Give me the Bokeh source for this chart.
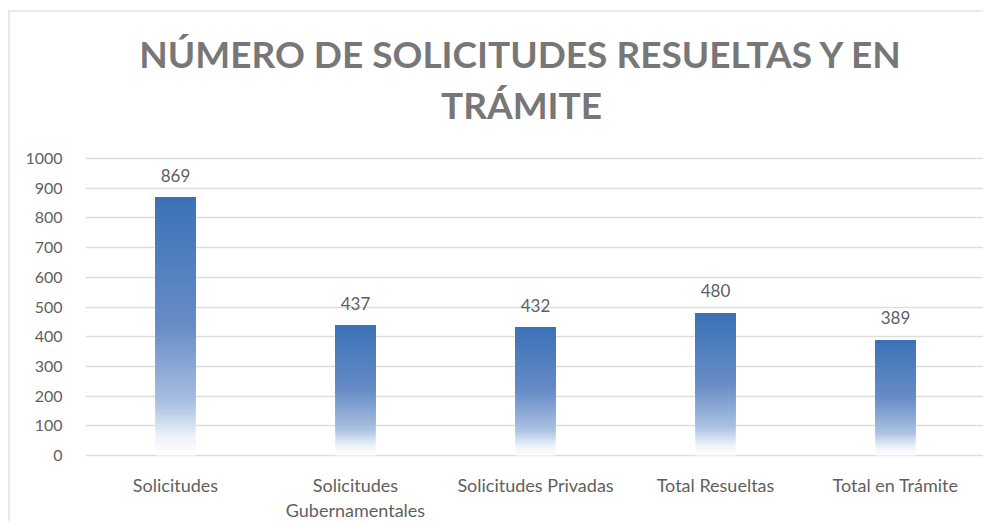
from bokeh.plotting import figure
from bokeh.models import FactorRange, Range1d, ColumnDataSource, FixedTicker
from bokeh.core.properties import value
from bokeh.embed import file_html
from bokeh.resources import INLINE

# ---- data ----
categories = ["Solicitudes", "Solicitudes Gubernamentales", "Solicitudes Privadas",
              "Total Resueltas", "Total en Trámite"]
counts = [869, 437, 432, 480, 389]
y_ticks = [0, 100, 200, 300, 400, 500, 600, 700, 800, 900, 1000]
tick_line1 = ["Solicitudes", "Solicitudes", "Solicitudes Privadas", "Total Resueltas", "Total en Trámite"]
tick_line2 = ["", "Gubernamentales", "", "", ""]
title_line1 = "NÚMERO DE SOLICITUDES RESUELTAS Y EN"
title_line2 = "TRÁMITE"

# ---- style ----
FONT = "Lato"
TEXT_GRAY = "#5f5f5f"
TITLE_GRAY = "#777777"
GRID = "#dedede"
stops = [(0.0, (255, 255, 255)), (0.07, (238, 243, 250)), (0.2, (170, 193, 225)),
         (0.5, (104, 140, 198)), (1.0, (58, 114, 183))]

def grad(f):
    for (f0, c0), (f1, c1) in zip(stops[:-1], stops[1:]):
        if f0 <= f <= f1:
            t = (f - f0) / (f1 - f0)
            return "#%02x%02x%02x" % tuple(int(round(a + (b - a) * t)) for a, b in zip(c0, c1))
    return "#%02x%02x%02x" % stops[-1][1]

# the frame spans the whole chart height so that title and category labels can live inside it;
# the value axis keeps 0..1000 over the reference's plot area (0 at 455px, 1000 at 158px)
PX_PER_UNIT = (455 - 158) / 1000
TOP_PX, BOTTOM_PX = 12, 523
y_lo = -(BOTTOM_PX - 455) / PX_PER_UNIT
y_hi = (455 - TOP_PX) / PX_PER_UNIT

p = figure(x_range=FactorRange(*categories, range_padding=0), y_range=Range1d(y_lo, y_hi),
           width=975, height=BOTTOM_PX - TOP_PX, output_backend="svg", toolbar_location=None,
           min_border_left=75, min_border_right=0, min_border_bottom=0, min_border_top=0)
p.margin = (10, 0, 0, 8)
p.styles = {"border-top": "2px solid #e9e9e9", "border-left": "2px solid #e9e9e9"}

# gradient bars: overlapping slices from each level up to the bar's value
N = 90
xs, tops, bottoms, cols = [], [], [], []
for c, v in zip(categories, counts):
    for k in range(N):
        xs.append(c)
        bottoms.append(v * k / N)
        tops.append(v)
        cols.append(grad((k + 0.5) / N))
p.vbar(x=xs, top=tops, bottom=bottoms, width=0.22, fill_color=cols, line_color=None)

# value labels
src = ColumnDataSource(dict(x=categories, y=counts, t=[str(v) for v in counts]))
p.text(x="x", y="y", text="t", source=src, text_align="center", text_baseline="middle",
       y_offset=-22, text_font=value(FONT), text_font_size="17px", text_color=TEXT_GRAY)

# category labels (two lines) below the zero line
lsrc = ColumnDataSource(dict(x=categories, y=[0] * len(categories), l1=tick_line1, l2=tick_line2))
for col, off in (("l1", 29), ("l2", 54)):
    p.text(x="x", y="y", text=col, source=lsrc, y_offset=off, text_align="center",
           text_baseline="middle", text_font=value(FONT), text_font_size="18px",
           text_color=TEXT_GRAY)

# title (two lines), centred on the middle of the categorical range, above the 1000 line
mid = len(categories) / 2
tsrc = ColumnDataSource(dict(x=[mid, mid], y=[y_ticks[-1]] * 2, t=[title_line1, title_line2],
                             off=[-105, -54]))
p.text(x="x", y="y", text="t", source=tsrc, x_offset=-14, y_offset="off", text_align="center",
       text_baseline="middle", text_font=value(FONT), text_font_size="37px",
       text_font_style="bold", text_color=TITLE_GRAY)

# axes
p.xaxis.visible = False
p.yaxis.ticker = FixedTicker(ticks=y_ticks)
p.yaxis.axis_line_color = None
p.yaxis.major_tick_line_color = None
p.yaxis.minor_tick_line_color = None
p.yaxis.major_label_text_font = FONT
p.yaxis.major_label_text_color = TEXT_GRAY
p.yaxis.major_label_text_font_size = "16px"
p.yaxis.major_label_standoff = 17

p.xgrid.grid_line_color = None
p.ygrid.grid_line_color = GRID
p.ygrid.grid_line_width = 1.5
p.outline_line_color = None

open("out.html", "w").write(file_html(p, INLINE))
